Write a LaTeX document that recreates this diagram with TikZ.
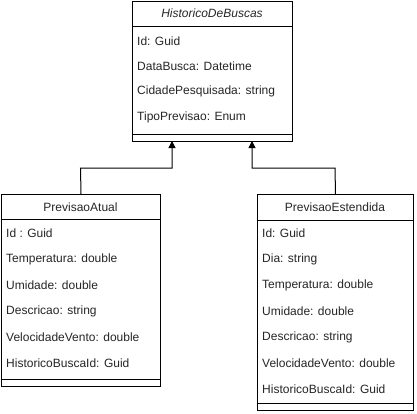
\documentclass[tikz,border=0pt]{standalone}
\usepackage{fontspec}
\setmainfont{Liberation Sans}
\usetikzlibrary{arrows.meta}
\begin{document}
\begin{tikzpicture}[x=1pt,y=-1pt,
  box/.style={draw=black, line width=1pt, fill=white, inner sep=0pt, anchor=north west},
  fld/.style={anchor=west, inner sep=0pt, font=\fontsize{12}{14}\selectfont, text=black!85},
  ttl/.style={inner sep=0pt, font=\fontsize{12}{14}\selectfont, text=black!85},
  sep/.style={line width=1pt},
  inh/.style={line width=1pt, -{Triangle[length=7pt,width=7pt]}}]
\useasboundingbox[fill=white] (0,0) rectangle (417,413);
% HistoricoDeBuscas
\node[box, minimum width=160pt, minimum height=140pt] (hb) at (132,1) {};
\node[ttl, font=\fontsize{12}{14}\selectfont\itshape] (hbt) at (212,13.5) {HistoricoDeBuscas};
\draw[sep] (132,26) -- (292,26);
\node[fld] (hb1) at (137,41) {Id: Guid};
\node[fld] (hb2) at (137,66) {DataBusca: Datetime};
\node[fld] (hb3) at (137,91) {CidadePesquisada: string};
\node[fld] (hb4) at (137,117) {TipoPrevisao: Enum};
\draw[sep] (132,134) -- (292,134);
% PrevisaoAtual
\node[box, minimum width=159pt, minimum height=192pt] (pa) at (1,194) {};
\node[ttl] (pat) at (80.5,207) {PrevisaoAtual};
\draw[sep] (1,219) -- (160,219);
\node[fld] (pa1) at (6,233) {Id : Guid};
\node[fld] (pa2) at (6,259) {Temperatura: double};
\node[fld] (pa3) at (6,285) {Umidade: double};
\node[fld] (pa4) at (6,311) {Descricao: string};
\node[fld] (pa5) at (6,337) {VelocidadeVento: double};
\node[fld] (pa6) at (6,363) {HistoricoBuscaId: Guid};
\draw[sep] (1,379) -- (160,379);
% PrevisaoEstendida
\node[box, minimum width=156pt, minimum height=216pt] (pe) at (257,194) {};
\node[ttl] (pet) at (335,207) {PrevisaoEstendida};
\draw[sep] (257,220) -- (413,220);
\node[fld] (pe1) at (262,233) {Id: Guid};
\node[fld] (pe2) at (262,259) {Dia: string};
\node[fld] (pe3) at (262,285) {Temperatura: double};
\node[fld] (pe4) at (262,311) {Umidade: double};
\node[fld] (pe5) at (262,337) {Descricao: string};
\node[fld] (pe6) at (262,363) {VelocidadeVento: double};
\node[fld] (pe7) at (262,389) {HistoricoBuscaId: Guid};
\draw[sep] (257,403) -- (413,403);
% connectors
\coordinate (t1) at (172,141);
\coordinate (t2) at (252,141);
\coordinate (j1) at (80.5,168);
\coordinate (j2) at (335,168);
\draw[inh] (pa.north) -- (j1) -| (t1);
\draw[inh] (pe.north) -- (j2) -| (t2);
\end{tikzpicture}
\end{document}
